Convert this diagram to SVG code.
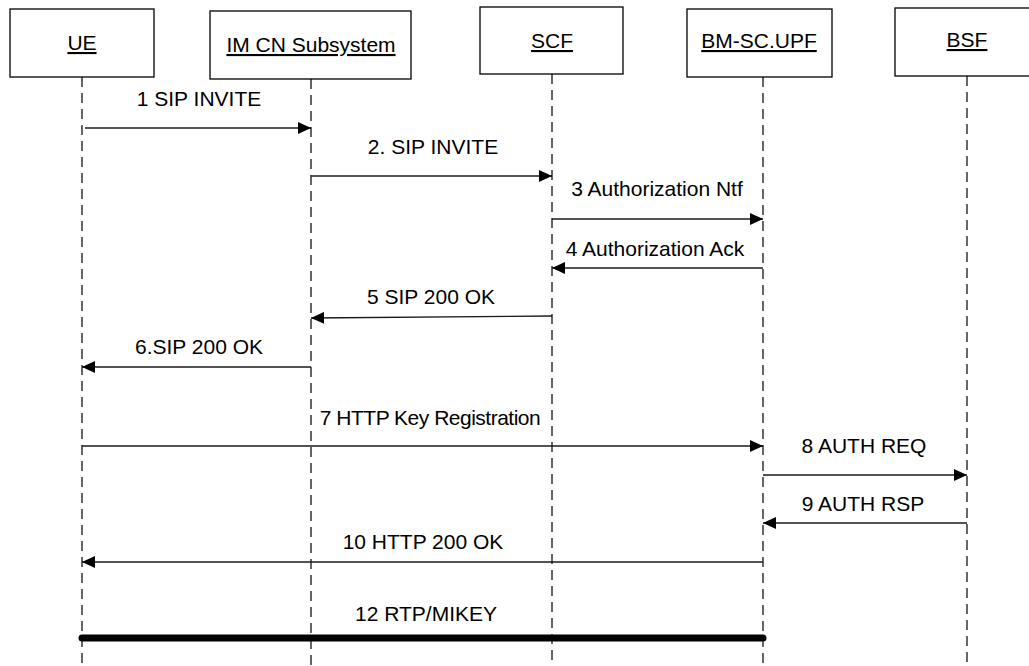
<svg xmlns="http://www.w3.org/2000/svg" width="1029" height="666" viewBox="0 0 1029 666">
<style>
.box{fill:#fff;stroke:#000;stroke-width:1.3}
.lbl{font-family:"Liberation Sans",Arial,sans-serif;font-size:21px;fill:#000;text-anchor:middle;text-decoration:underline}
.life{stroke:#000;stroke-width:1.2;stroke-dasharray:10 6;fill:none}
.msg{stroke:#1a1a1a;stroke-width:1.3;fill:none;marker-end:url(#ah)}
.txt{font-family:"Liberation Sans",Arial,sans-serif;font-size:21px;fill:#000;text-anchor:middle}
</style>
<defs>
<marker id="ah" markerWidth="14" markerHeight="12" refX="13" refY="6" orient="auto" markerUnits="userSpaceOnUse">
<path d="M0,0 L13,6 L0,12 Z" fill="#000"/>
</marker>
</defs>
<rect width="1029" height="666" fill="#fff"/>
<g id="lifelines">
<line class="life" x1="82" y1="77" x2="82" y2="666"/>
<line class="life" x1="311" y1="79" x2="311" y2="666"/>
<line class="life" x1="552" y1="74" x2="552" y2="666"/>
<line class="life" x1="763" y1="77" x2="763" y2="666"/>
<line class="life" x1="967" y1="76" x2="967" y2="666"/>
</g>
<g id="UE"><rect class="box" x="10" y="9" width="144" height="68"/><text class="lbl" x="82" y="50">UE</text></g>
<g id="IMCN"><rect class="box" x="210" y="11" width="201" height="68"/><text class="lbl" x="311" y="52">IM CN Subsystem</text></g>
<g id="SCF"><rect class="box" x="480" y="7" width="143" height="67"/><text class="lbl" x="552" y="48">SCF</text></g>
<g id="BMSC"><rect class="box" x="687" y="9" width="145" height="68"/><text class="lbl" x="759" y="48">BM-SC.UPF</text></g>
<g id="BSF"><rect class="box" x="895" y="8" width="150" height="68"/><text class="lbl" x="967" y="47">BSF</text></g>
<g id="connectors">
<line class="msg" x1="85" y1="128" x2="311" y2="128"/>
<line class="msg" x1="311" y1="176" x2="552" y2="176"/>
<line class="msg" x1="552" y1="219" x2="763" y2="219"/>
<line class="msg" x1="763" y1="268" x2="552" y2="268"/>
<line class="msg" x1="552" y1="316" x2="311" y2="318"/>
<line class="msg" x1="311" y1="367" x2="82" y2="367"/>
<line class="msg" x1="82" y1="446" x2="763" y2="446"/>
<line class="msg" x1="763" y1="475" x2="967" y2="475"/>
<line class="msg" x1="967" y1="523" x2="763" y2="523"/>
<line class="msg" x1="763" y1="562" x2="82" y2="562"/>
<line x1="82" y1="638" x2="763" y2="638" stroke="#000" stroke-width="7" stroke-linecap="round"/>
</g>
<g id="labels">
<text class="txt" x="199" y="106">1 SIP INVITE</text>
<text class="txt" x="433" y="154">2. SIP INVITE</text>
<text class="txt" x="657" y="196">3 Authorization Ntf</text>
<text class="txt" x="655" y="256">4 Authorization Ack</text>
<text class="txt" x="431" y="304">5 SIP 200 OK</text>
<text class="txt" x="199" y="354">6.SIP 200 OK</text>
<text class="txt" x="430" y="425" style="letter-spacing:-0.5px">7 HTTP Key Registration</text>
<text class="txt" x="864" y="453">8 AUTH REQ</text>
<text class="txt" x="863" y="511">9 AUTH RSP</text>
<text class="txt" x="423" y="549">10 HTTP 200 OK</text>
<text class="txt" x="426" y="621">12 RTP/MIKEY</text>
</g>
</svg>
